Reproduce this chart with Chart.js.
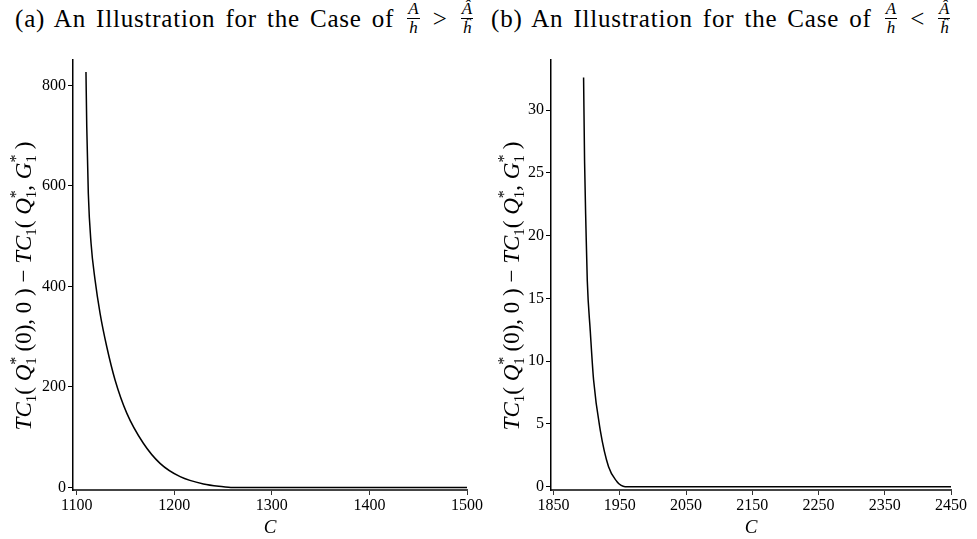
<!DOCTYPE html>
<html lang="en">
  <head>
    <meta charset="UTF-8" />
    <title>Illustration cases</title>
    <style>
      body { margin: 0; width: 977px; height: 539px; background: #fff; position: relative; overflow: hidden;
             font-family: "Liberation Serif", "DejaVu Serif", serif; color: #000; }
      .t { position: absolute; top: 3px; font-size: 25px; letter-spacing: 0.8px; word-spacing: 3px; white-space: nowrap; }
      .fr { display: inline-block; vertical-align: middle; text-align: center; font-size: 17px;
            font-style: italic; line-height: 1; margin: 0 3px; position: relative; top: -3px; letter-spacing: 0; }
      .fr span { display: block; padding: 0 1px; }
      .fr span:first-child { border-bottom: 1px solid #000; padding-bottom: 1px; }
      .box { position: absolute; top: 45px; }
    </style>
  </head>
  <body>
    <div class="t" style="left:15px">(a) An Illustration for the Case of <span class="fr"><span>A</span><span>h</span></span> &gt; <span class="fr"><span>Â</span><span>ĥ</span></span></div>
    <div class="t" style="left:491px">(b) An Illustration for the Case of <span class="fr"><span>A</span><span>h</span></span> &lt; <span class="fr"><span>Â</span><span>ĥ</span></span></div>

    <div class="box" style="left:0"><canvas id="chartA" width="488" height="494"></canvas></div>
    <div class="box" style="left:488px"><canvas id="chartB" width="489" height="494"></canvas></div>

    <script src="https://cdn.jsdelivr.net/npm/chart.js"></script>
    <script>
      // values
      const cA = [1109.5, 1110.3, 1111.9, 1114.7, 1118.8, 1123.9, 1130.8, 1139.3, 1151.3, 1168.3, 1185.4, 1206, 1229.9, 1250.4, 1258, 1500];
      const vA = [827, 718, 585, 486, 413, 347, 280, 214, 148, 88, 48, 21.5, 7, 1.6, 0.2, 0];
      const cB = [1895.3, 1896.8, 1898.9, 1900.9, 1905.4, 1910.4, 1920.5, 1933, 1945.8, 1952, 1958, 2450];
      const vB = [32.6, 25.9, 20.6, 16.4, 12.4, 8.5, 4.5, 1.6, 0.4, 0.1, 0, 0];

      const xTicksA = [1100, 1200, 1300, 1400, 1500];
      const yTicksA = [0, 200, 400, 600, 800];
      const xTicksB = [1850, 1950, 2050, 2150, 2250, 2350, 2450];
      const yTicksB = [0, 5, 10, 15, 20, 25, 30];

      const serif = "'Liberation Serif', 'DejaVu Serif', serif";

      // y axis title with sub/superscripts, drawn rotated
      const ySegs = [
        { t: "TC", it: true }, { t: "1", sz: 15, dy: 5 },
        { t: "( " }, { t: "Q", it: true }, { t: "*", sz: 16, dy: -10, noAdv: true }, { t: "1", sz: 15, dy: 5 },
        { t: " (0), 0 ) − " },
        { t: "TC", it: true }, { t: "1", sz: 15, dy: 5 },
        { t: "( " }, { t: "Q", it: true }, { t: "*", sz: 16, dy: -10, noAdv: true }, { t: "1", sz: 15, dy: 5 },
        { t: ", " }, { t: "G", it: true }, { t: "*", sz: 16, dy: -10, noAdv: true }, { t: "1", sz: 15, dy: 5 },
        { t: " )" }
      ];

      const yTitle = {
        id: "yTitle",
        afterDraw(chart, args, opts) {
          const ctx = chart.ctx;
          const font = s => (s.it ? "italic " : "") + (s.sz || 23) + "px " + serif;
          let total = 0;
          ySegs.forEach(s => { ctx.font = font(s); if (!s.noAdv) total += ctx.measureText(s.t).width; });
          ctx.save();
          ctx.translate(opts.x, opts.y);
          ctx.rotate(-Math.PI / 2);
          ctx.fillStyle = "#000";
          ctx.textBaseline = "alphabetic";
          let x = -total / 2;
          ySegs.forEach(s => {
            ctx.font = font(s);
            ctx.fillText(s.t, x, s.dy || 0);
            if (!s.noAdv) x += ctx.measureText(s.t).width;
          });
          ctx.restore();
        }
      };

      function makeChart(id, xs, ys, xTicks, yTicks, xr, yr, axisW, padRight) {
        return new Chart(document.getElementById(id), {
          type: "scatter",
          data: {
            datasets: [{
              data: xs.map((c, i) => ({ x: c, y: ys[i] })),
              showLine: true,
              borderColor: "#000",
              borderWidth: 1.5,
              pointRadius: 0,
              cubicInterpolationMode: "monotone"
            }]
          },
          options: {
            responsive: false,
            animation: false,
            layout: { padding: { top: 15, right: padRight, bottom: 0, left: 0 } },
            plugins: {
              legend: { display: false },
              tooltip: { enabled: false },
              yTitle: { x: 31, y: 241 }
            },
            scales: {
              x: {
                type: "linear",
                min: xr[0], max: xr[1],
                afterBuildTicks: a => { a.ticks = xTicks.map(v => ({ value: v })); },
                afterFit: s => { s.height = 49; },
                grid: { drawOnChartArea: false, drawTicks: true, tickLength: 5, color: "#333", lineWidth: 1 },
                border: { display: true, color: "#444", width: 2 },
                ticks: { color: "#000", font: { family: serif, size: 16 }, padding: 1, maxRotation: 0,
                         callback: v => String(v) },
                title: { display: true, text: "C", color: "#000", padding: { top: 4, bottom: 0 },
                         font: { family: serif, size: 19, style: "italic" } }
              },
              y: {
                type: "linear",
                min: yr[0], max: yr[1],
                afterBuildTicks: a => { a.ticks = yTicks.map(v => ({ value: v })); },
                afterFit: s => { s.width = axisW; },
                grid: { drawOnChartArea: false, drawTicks: true, tickLength: 5, color: "#000", lineWidth: 1 },
                border: { display: true, color: "#000", width: 1.5 },
                ticks: { color: "#000", font: { family: serif, size: 16 }, padding: 2,
                         callback: v => String(v) }
              }
            }
          },
          plugins: [yTitle]
        });
      }

      makeChart("chartA", cA, vA, xTicksA, yTicksA, [1096.2, 1500], [-5, 850.7], 73, 21);
      makeChart("chartB", cB, vB, xTicksB, yTicksB, [1846.1, 2450], [-0.26, 34], 63, 26);
    </script>
  </body>
</html>
